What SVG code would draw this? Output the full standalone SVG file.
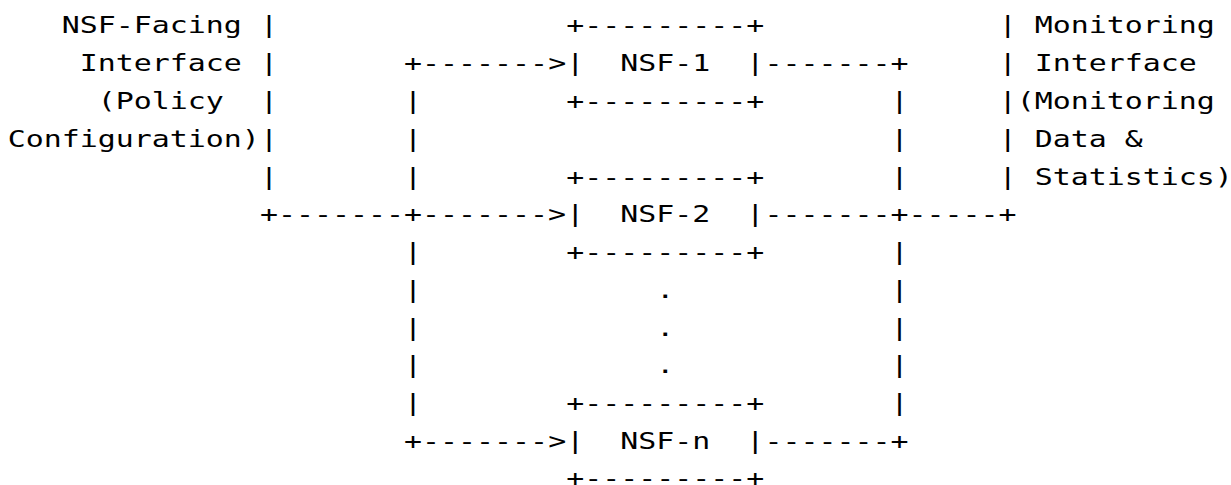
<svg xmlns="http://www.w3.org/2000/svg" width="1231" height="485" viewBox="0 0 1231 485">
  <style>
    /* monospace grid: 13.847 units per column (18.02px after the 1.3012 stretch), 37.78px per row */
    .t { font-family: "DejaVu Sans Mono", "Liberation Mono", monospace; font-size: 23px; fill: #000; white-space: pre; }
  </style>
  <rect width="1231" height="485" fill="#fff"/>

  <g transform="scale(1.3012,1)">
    <!-- left interface label -->
    <g id="nsf-facing-label" class="t">
      <text x="47.46" y="33.4">NSF-Facing</text>
      <text x="61.31" y="71.18">Interface</text>
      <text x="75.16" y="108.96">(Policy</text>
      <text x="5.92" y="146.74">Configuration)</text>
    </g>

    <!-- right interface label -->
    <g id="monitoring-label" class="t">
      <text x="795.2" y="33.4">Monitoring</text>
      <text x="795.2" y="71.18">Interface</text>
      <text x="781.35" y="108.96">(Monitoring</text>
      <text x="795.2" y="146.74">Data &amp;</text>
      <text x="795.2" y="184.52">Statistics)</text>
    </g>

    <!-- network security functions -->
    <g id="nsf-1" class="t">
      <text x="435.18" y="33.4">+---------+</text>
      <text x="435.18" y="71.18" xml:space="preserve">|  NSF-1  |</text>
      <text x="435.18" y="108.96">+---------+</text>
    </g>
    <g id="nsf-2" class="t">
      <text x="435.18" y="184.52">+---------+</text>
      <text x="435.18" y="222.3" xml:space="preserve">|  NSF-2  |</text>
      <text x="435.18" y="260.08">+---------+</text>
    </g>
    <g id="nsf-ellipsis" class="t">
      <text x="504.41" y="297.86">.</text>
      <text x="504.41" y="335.64">.</text>
      <text x="504.41" y="373.42">.</text>
    </g>
    <g id="nsf-n" class="t">
      <text x="435.18" y="411.2">+---------+</text>
      <text x="435.18" y="448.98" xml:space="preserve">|  NSF-n  |</text>
      <text x="435.18" y="486.3">+---------+</text>
    </g>

    <!-- connectors -->
    <g id="connectors" class="t">
      <!-- NSF-facing interface bar -->
      <text x="199.78" y="33.4">|</text>
      <text x="199.78" y="71.18">|</text>
      <text x="199.78" y="108.96">|</text>
      <text x="199.78" y="146.74">|</text>
      <text x="199.78" y="184.52">|</text>
      <text x="199.78" y="222.3">+-------+-------&gt;</text>
      <!-- fan-out to the NSFs -->
      <text x="310.55" y="71.18">+-------&gt;</text>
      <text x="310.55" y="108.96">|</text>
      <text x="310.55" y="146.74">|</text>
      <text x="310.55" y="184.52">|</text>
      <text x="310.55" y="260.08">|</text>
      <text x="310.55" y="297.86">|</text>
      <text x="310.55" y="335.64">|</text>
      <text x="310.55" y="373.42">|</text>
      <text x="310.55" y="411.2">|</text>
      <text x="310.55" y="448.98">+-------&gt;</text>
      <!-- fan-in from the NSFs -->
      <text x="587.49" y="71.18">-------+</text>
      <text x="684.42" y="108.96">|</text>
      <text x="684.42" y="146.74">|</text>
      <text x="684.42" y="184.52">|</text>
      <text x="587.49" y="222.3">-------+-----+</text>
      <text x="684.42" y="260.08">|</text>
      <text x="684.42" y="297.86">|</text>
      <text x="684.42" y="335.64">|</text>
      <text x="684.42" y="373.42">|</text>
      <text x="684.42" y="411.2">|</text>
      <text x="587.49" y="448.98">-------+</text>
      <!-- monitoring interface bar -->
      <text x="767.51" y="33.4">|</text>
      <text x="767.51" y="71.18">|</text>
      <text x="767.51" y="108.96">|</text>
      <text x="767.51" y="146.74">|</text>
      <text x="767.51" y="184.52">|</text>
    </g>
  </g>
</svg>
